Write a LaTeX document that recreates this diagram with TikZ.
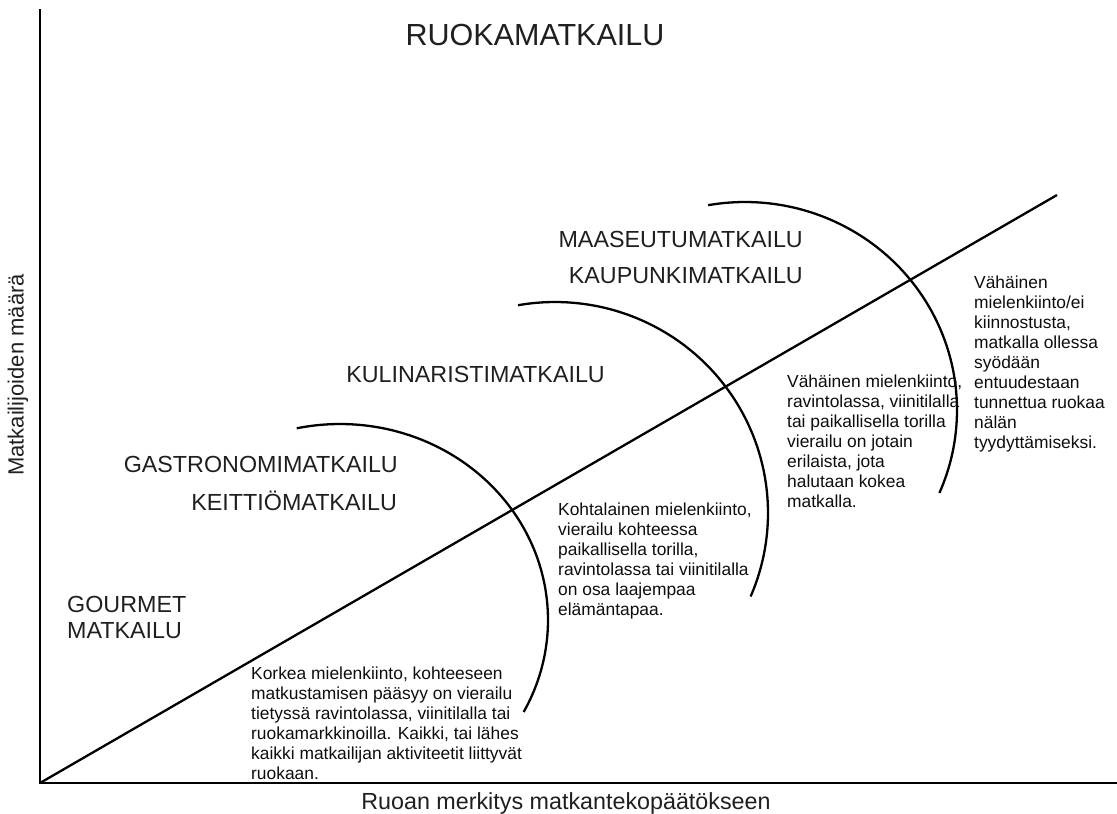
\documentclass[tikz,border=0pt]{standalone}
\usepackage{fontspec}
\setmainfont{Liberation Sans}
\begin{document}
\begin{tikzpicture}[x=1pt,y=-1pt,
  axis/.style={line width=2.8pt, line join=miter},
  curve/.style={line width=2.3pt},
  lab/.style={font=\fontsize{23.3}{26}\selectfont, inner sep=0pt, text=black!88},
  desc/.style={font=\fontsize{17.4}{20}\selectfont, align=left, inner sep=0pt, anchor=north west, text=black!95}]
\useasboundingbox (0,0) rectangle (1117,814);
% axes
\coordinate (O) at (40,783);
\coordinate (Ytop) at (40,9);
\coordinate (Xend) at (1117,783);
\coordinate (Dend) at (1057,195);
\draw[axis] (Ytop) -- (O) -- (Xend);
\draw[curve] (O) -- (Dend);
% arcs
\draw[curve] plot[domain=-102:28, samples=120, smooth] ({340+208*cos(\x)},{620+196*sin(\x)});
\draw[curve] plot[domain=-100:23.3, samples=120, smooth] ({555+213*cos(\x)},{513+211*sin(\x)});
\draw[curve] plot[domain=-100:23.5, samples=120, smooth] ({745+212*cos(\x)},{410+208*sin(\x)});
% title
\node[lab, font=\fontsize{30.5}{34}\selectfont, anchor=base] (title) at (535,45) {RUOKAMATKAILU};
% category labels
\node[lab, anchor=base east] (maa) at (803,247) {MAASEUTUMATKAILU};
\node[lab, anchor=base east] (kau) at (803,283) {KAUPUNKIMATKAILU};
\node[lab, anchor=base east] (kul) at (605,382) {KULINARISTIMATKAILU};
\node[lab, anchor=base east] (gas) at (398,472) {GASTRONOMIMATKAILU};
\node[lab, anchor=base east] (kei) at (397,510) {KEITTIÖMATKAILU};
\node[lab, align=left, anchor=north west] (gou) at (67,596) {GOURMET\\MATKAILU};
% descriptions
\node[desc] (d1) at (251,666.5) {Korkea mielenkiinto, kohteeseen\\matkustamisen pääsyy on vierailu\\tietyssä ravintolassa, viinitilalla tai\\ruokamarkkinoilla. Kaikki, tai lähes\\kaikki matkailijan aktiviteetit liittyvät\\ruokaan.};
\node[desc] (d2) at (558,502.5) {Kohtalainen mielenkiinto,\\vierailu kohteessa\\paikallisella torilla,\\ravintolassa tai viinitilalla\\on osa laajempaa\\elämäntapaa.};
\node[desc] (d3) at (787,374.5) {Vähäinen mielenkiinto,\\ravintolassa, viinitilalla\\tai paikallisella torilla\\vierailu on jotain\\erilaista, jota\\halutaan kokea\\matkalla.};
\node[desc] (d4) at (974,275.5) {Vähäinen\\mielenkiinto/ei\\kiinnostusta,\\matkalla ollessa\\syödään\\entuudestaan\\tunnettua ruokaa\\nälän\\tyydyttämiseksi.};
% axis labels
\node[lab, anchor=base] (xl) at (566,809) {Ruoan merkitys matkantekopäätökseen};
\node[lab, font=\fontsize{22}{24}\selectfont, rotate=90] (yl) at (18,375) {Matkailijoiden määrä};
\end{tikzpicture}
\end{document}
